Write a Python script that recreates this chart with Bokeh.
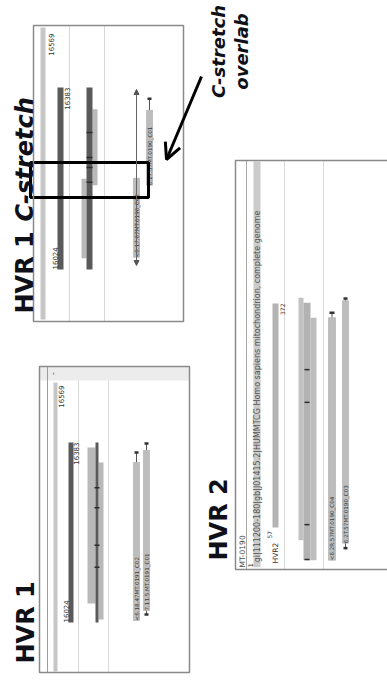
import numpy as np
from bokeh.plotting import figure
from bokeh.models import Range1d, Arrow, OpenHead, NormalHead
from bokeh.core.properties import value
from bokeh.embed import file_html
from bokeh.resources import INLINE

W, H = 387, 680
SEQ_LEN = 16569
SEQ_ID = "MT-0190"
SEQ_HEADER = "gi|111200-180|gb|J01415.2|HUMMTCG Homo sapiens mitochondrion, complete genome"

# ---------------- data (positions in bp) ----------------
# HVR1 view with the C-stretch
cs_region = [16024, 16383]
cs_cov_start = [16046, 16190]
cs_cov_end = [16203, 16340]
cs_marks = [16196, 16225, 16245, 16294]
cs_read_names = ["<6.17.67MT.0190_C02", "6.17.57MT.0190_C01"]
cs_read_start = [16048, 16190]
cs_read_end = [16204, 16338]
cs_read_ext_hi = [None, 16361]
cs_pair_span = [16032, 16379]
cs_stretch = [16166, 16235]

# HVR1 view
h1_region = [16024, 16383]
h1_cov_start = [16062, 16030]
h1_cov_end = [16373, 16343]
h1_marks = [16134, 16178, 16253, 16293]
h1_read_names = ["<6.18.47MT.0191_C02", "7.11.5.MT.0191_C01"]
h1_read_start = [16028, 16048]
h1_read_end = [16343, 16367]
h1_read_ext_lo = [None, 16040]
h1_read_ext_hi = [16363, 16381]

# HVR2 view
h2_region = [57, 372]
h2_cov_start = [39, 11, 11]
h2_cov_end = [380, 373, 352]
h2_marks = [12, 61, 233, 279]
h2_read_names = ["<6.2R.57MT.0190_C04", "6.2T.57MT.0190_C03"]
h2_read_start = [11, 35]
h2_read_end = [352, 376]
h2_read_ext_lo = [None, 28]
h2_read_ext_hi = [359, 379]

# ---------------- styles ----------------
BORDER = "#8a8a8a"
SEP = "#d8d8d8"
DARK = "#5a5a5a"
LIGHT = "#b9b9b9"
RULER = "#c6c6c6"
MARK = "#2c2c2c"
INK = "#101018"
SMALL_FONT = value("DejaVu Sans")
TITLE_FONT = value("DejaVu Sans")
UP = np.pi / 2

p = figure(width=W, height=H, x_range=Range1d(0, W), y_range=Range1d(H, 0),
           x_axis_type=None, y_axis_type=None, toolbar_location=None,
           output_backend="svg", min_border=0, outline_line_color=None,
           background_fill_color="white", border_fill_color="white")
p.grid.visible = False


def genome_range(y_lo_px, y_hi_px, g_lo, g_hi):
    """Vertical bp range: g_lo sits at screen row y_lo_px, g_hi at y_hi_px."""
    s = (g_hi - g_lo) / (y_lo_px - y_hi_px)
    return Range1d(start=g_lo - (H - y_lo_px) * s, end=g_lo + y_lo_px * s)


def bp_at(rng, y_px):
    return rng.start + (H - y_px) * (rng.end - rng.start) / H


rng_a = genome_range(269, 87, cs_region[0], cs_region[1])
rng_b = genome_range(622, 442, h1_region[0], h1_region[1])
rng_c = genome_range(527, 303, h2_region[0], h2_region[1])
p.extra_y_ranges = {"A": rng_a, "B": rng_b, "C": rng_c}


def frame(x0, y0, x1, y1, color=BORDER, width=1.5):
    p.quad(left=[x0], right=[x1], top=[y0], bottom=[y1], fill_color=None,
           line_color=color, line_width=width)


def vline(x, y0, y1, color=SEP, width=1.0):
    p.segment(x0=[x], x1=[x], y0=[y0], y1=[y1], line_color=color, line_width=width)


def bars(left, right, starts, ends, rng, color):
    n = len(starts)
    p.quad(left=[left] * n, right=[right] * n, bottom=starts, top=ends,
           y_range_name=rng, fill_color=color, line_color=None)


def marks(left, right, pos, rng, color=MARK, width=1.5):
    n = len(pos)
    p.segment(x0=[left] * n, x1=[right] * n, y0=pos, y1=pos, y_range_name=rng,
              line_color=color, line_width=width)


def vtext(x, y, txt, size, align="left", rng="default", color="#333333",
          style="normal", font=SMALL_FONT):
    """Text reading bottom-to-top, centred across x."""
    p.text(x=[x], y=[y], text=[txt], angle=UP, y_range_name=rng,
           text_font=font, text_font_size=f"{size}px", text_font_style=style,
           text_color=color, text_align=align, text_baseline="middle")


def reads(left, right, starts, ends, names, rng, ext_lo=None, ext_hi=None):
    cx = (left + right) / 2
    for i in range(len(starts)):
        if ext_hi and ext_hi[i] is not None:
            p.segment(x0=[cx[i]], x1=[cx[i]], y0=[ends[i]], y1=[ext_hi[i]], y_range_name=rng,
                      line_color="#555555", line_width=1)
            marks(left[i] + 1, right[i] - 1, [ext_hi[i]], rng, color="#333333", width=2.5)
        if ext_lo and ext_lo[i] is not None:
            p.segment(x0=[cx[i]], x1=[cx[i]], y0=[starts[i]], y1=[ext_lo[i]], y_range_name=rng,
                      line_color="#555555", line_width=1)
            marks(left[i] + 1, right[i] - 1, [ext_lo[i]], rng, color="#333333", width=2.5)
    p.quad(left=left, right=right, bottom=starts, top=ends, y_range_name=rng,
           fill_color="#bdbdbd", line_color="#a9a9a9", line_width=0.6)
    for i in range(len(starts)):
        vtext(cx[i] + 0.3, starts[i], names[i], 5.6, rng=rng, color="#3c3c3c")


# ================= panel: HVR 1 C-stretch =================
ax0, ay0, ax1, ay1 = 33, 25, 183, 321
p.quad(left=[ax0], right=[ax1], top=[ay0], bottom=[ay1], fill_color="white", line_color=None)
vline(69, ay0, ay1)
vline(104, ay0, ay1)
p.quad(left=[40], right=[45], bottom=[max(1, bp_at(rng_a, ay1 - 2))],
       top=[min(SEQ_LEN, bp_at(rng_a, ay0 + 2))], y_range_name="A",
       fill_color=RULER, line_color=None)
vtext(50, 33, str(SEQ_LEN), 7, align="right")
bars(57, 63, [cs_region[0]], [cs_region[1]], "A", DARK)
vtext(66, cs_region[1], str(cs_region[1]), 7, align="right", rng="A")
vtext(54, cs_region[0], str(cs_region[0]), 7, align="left", rng="A")
bars(81, 86, [cs_cov_start[0]], [cs_cov_end[0]], "A", LIGHT)
bars(92, 97, [cs_cov_start[1]], [cs_cov_end[1]], "A", LIGHT)
bars(86, 92, [cs_region[0]], [cs_region[1]], "A", DARK)
marks(86, 92, cs_marks, "A")
p.add_layout(Arrow(x_start=136, x_end=136, y_start=cs_pair_span[0], y_end=cs_pair_span[1],
                   y_range_name="A", line_color="#666666", line_width=1,
                   start=NormalHead(size=5, fill_color="#555555", line_color="#555555"),
                   end=NormalHead(size=5, fill_color="#555555", line_color="#555555")))
reads(np.array([133, 146]), np.array([139, 152]), cs_read_start, cs_read_end,
      cs_read_names, "A", ext_hi=cs_read_ext_hi)
p.quad(left=[30], right=[148], bottom=[cs_stretch[0]], top=[cs_stretch[1]],
       y_range_name="A", fill_color=None, line_color="black", line_width=3)
frame(ax0, ay0, ax1, ay1)

# ================= panel: HVR 1 =================
bx0, by0, bx1, by1 = 39, 366, 189, 672
p.quad(left=[bx0], right=[bx1], top=[by0], bottom=[380], fill_color="#ececec", line_color=None)
vtext(52, 373, "-", 8, align="center", color="#555555")
vline(47, by0, by1, color="#9d9d9d")
vline(78, 380, by1)
vline(108, 380, by1)
p.quad(left=[53], right=[57], bottom=[max(1, bp_at(rng_b, by1 - 1))],
       top=[min(SEQ_LEN, bp_at(rng_b, 382))], y_range_name="B",
       fill_color=RULER, line_color=None)
vtext(60.5, 385, str(SEQ_LEN), 7, align="right")
bars(68, 73, [h1_region[0]], [h1_region[1]], "B", DARK)
vtext(75.5, h1_region[1], str(h1_region[1]), 7, align="right", rng="B")
vtext(65.5, h1_region[0], str(h1_region[0]), 7, align="left", rng="B")
bars(87, 95, [h1_cov_start[0]], [h1_cov_end[0]], "B", LIGHT)
bars(98, 103, [h1_cov_start[1]], [h1_cov_end[1]], "B", LIGHT)
bars(95, 98, [h1_region[0]], [h1_region[1]], "B", DARK)
marks(94, 99, h1_marks, "B")
reads(np.array([133, 143]), np.array([139, 149]), h1_read_start, h1_read_end,
      h1_read_names, "B", ext_lo=h1_read_ext_lo, ext_hi=h1_read_ext_hi)
frame(bx0, by0, bx1, by1)

# ================= panel: HVR 2 =================
cx0, cy0, cx1, cy1 = 235, 160, 392, 569
vline(246, cy0, cy1, color="#a8a8a8")
vtext(241.5, 567, SEQ_ID, 7.5, align="left", color="#444444")
p.quad(left=[253], right=[260], bottom=[1], top=[min(SEQ_LEN, bp_at(rng_c, cy0 + 1))],
       y_range_name="C", fill_color="#cbcbcb", line_color=None)
vtext(256.5, 8, SEQ_HEADER, 8, rng="C", color="#555555")
vtext(250, 1, "1", 6.5, rng="C", color="#333333")
vline(284, cy0, cy1)
vline(323, cy0, cy1)
bars(272, 278, [h2_region[0]], [h2_region[1]], "C", "#b3b3b3")
vtext(275, 563, "HVR2", 7.5, color="#333333")
vtext(269, 538, str(h2_region[0]), 6, color="#333333")
vtext(282, h2_region[1], str(h2_region[1]), 6, align="right", rng="C", color="#333333")
bars(298, 303, [h2_cov_start[0]], [h2_cov_end[0]], "C", "#c2c2c2")
bars(303, 310, [h2_cov_start[1]], [h2_cov_end[1]], "C", "#b2b2b2")
bars(310, 316, [h2_cov_start[2]], [h2_cov_end[2]], "C", "#bdbdbd")
marks(304, 309, h2_marks, "C")
reads(np.array([328, 342]), np.array([335, 348]), h2_read_start, h2_read_end,
      h2_read_names, "C", ext_lo=h2_read_ext_lo, ext_hi=h2_read_ext_hi)
frame(cx0, cy0, cx1, cy1)

# ================= titles and callout =================
vtext(24, 313, "HVR 1", 24, color=INK, style="bold", font=TITLE_FONT)
vtext(24, 221, "C-stretch", 24, color=INK, style="bold italic", font=TITLE_FONT)
vtext(25, 663, "HVR 1", 24, color=INK, style="bold", font=TITLE_FONT)
vtext(218, 560, "HVR 2", 24, color=INK, style="bold", font=TITLE_FONT)
vtext(217.5, 51, "C-stretch", 18, align="center", color=INK, style="bold italic", font=TITLE_FONT)
vtext(240.5, 51, "overlab", 18, align="center", color=INK, style="bold italic", font=TITLE_FONT)
p.add_layout(Arrow(x_start=201, y_start=76, x_end=166, y_end=159, line_color="black",
                   line_width=3, end=OpenHead(size=16, line_width=3, line_color="black")))

open("out.html", "w").write(file_html(p, INLINE))
